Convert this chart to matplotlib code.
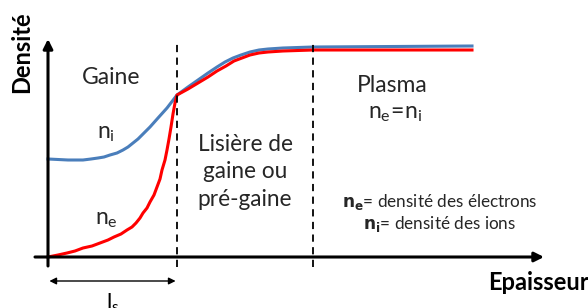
import matplotlib.pyplot as plt

plt.rcParams['font.family'] = ['Lato', 'DejaVu Sans']

# thickness / density (arbitrary units)
ne_x = [0, 10, 19, 27, 35, 44, 52, 60, 66, 73, 79, 84, 88, 92, 95, 99, 102,
        106, 109, 112, 114, 117, 119, 121, 123, 125, 127, 129,
        140, 150, 160, 169, 178, 186, 194, 202, 211, 220, 235, 265, 424]
ne_y = [0, 2, 4, 6, 9, 11, 14, 17, 20, 23, 27, 30, 34, 39, 44, 49, 55,
        62, 70, 78, 87, 97, 107, 118, 130, 143, 154, 162,
        168, 174, 180, 186, 191, 196, 199, 202, 204, 205, 206, 207, 207]
ni_x = [0, 20, 35, 43, 50, 56, 62, 69, 75, 80, 85, 90, 95, 102, 110, 119,
        129, 140, 150, 160, 169, 177, 185, 193, 202, 211, 220, 235, 265, 424]
ni_y = [98, 97, 97, 98, 99, 100, 102, 104, 107, 110, 114, 118, 123, 130,
        139, 149, 162, 170, 177, 184, 190, 195, 199, 202, 205, 207, 208,
        209, 210, 211]
boundaries = [129, 265]

BLUE = '#4a7ebb'
RED = '#ff0000'
TXT = '#262626'

fig = plt.figure(figsize=(5.88, 3.08), dpi=100)
ax = fig.add_axes([0, 0, 1, 1])
ax.set_xlim(-48, 540)
ax.set_ylim(-51, 257)
ax.axis('off')

ax.plot(ni_x, ni_y, color=BLUE, lw=2.2, solid_joinstyle='round')
ax.plot(ne_x, ne_y, color=RED, lw=2.2, solid_joinstyle='round')

for b in boundaries:
    ax.plot([b, b], [-10, 214], color='black', lw=1.3, ls=(0, (4, 3)))

# axes with arrows
ax.annotate('', xy=(496, 0), xytext=(-13, 0),
            arrowprops=dict(arrowstyle='-|>', color='black', lw=2.2,
                            mutation_scale=14, shrinkA=0, shrinkB=0))
ax.annotate('', xy=(0, 218), xytext=(0, -9),
            arrowprops=dict(arrowstyle='-|>', color='black', lw=2.2,
                            mutation_scale=14, shrinkA=0, shrinkB=0))
ax.annotate('', xy=(0, -24), xytext=(boundaries[0], -24),
            arrowprops=dict(arrowstyle='<|-|>', color='black', lw=1.0,
                            mutation_scale=10, shrinkA=1, shrinkB=1))

ax.text(-26, 205, 'Densité', rotation=90, ha='center', va='center',
        fontsize=17, fontweight='bold', color='black')
ax.text(541, -25, 'Epaisseur', ha='right', va='center',
        fontsize=17, fontweight='bold', color='black')
ax.text(65, -35, r'$\mathregular{l_s}$', ha='center', va='top',
        fontsize=16, color='black')

ax.text(63, 179, 'Gaine', ha='center', va='center', fontsize=16.5, color=TXT)
ax.text(58, 123, r'$\mathregular{n_i}$', ha='center', va='center',
        fontsize=16.5, color=TXT)
ax.text(58, 38, r'$\mathregular{n_e}$', ha='center', va='center',
        fontsize=16.5, color=TXT)
ax.text(197, 85, 'Lisière de\ngaine ou\npré-gaine', ha='center',
        va='center', fontsize=16.3, color=TXT, linespacing=1.4)
ax.text(344, 172, 'Plasma', ha='center', va='center', fontsize=16.5,
        color=TXT)
ax.text(347, 144, r'$\mathregular{n_e\!=\!n_i}$', ha='center',
        va='center', fontsize=16.5, color=TXT)
ax.text(392, 55, r'$\mathbf{n_e}$= densité des électrons', ha='center',
        va='center', fontsize=12.3, color=TXT)
ax.text(392, 33, r'$\mathbf{n_i}$= densité des ions', ha='center',
        va='center', fontsize=12.3, color=TXT)

plt.savefig('out.png', dpi=100)
